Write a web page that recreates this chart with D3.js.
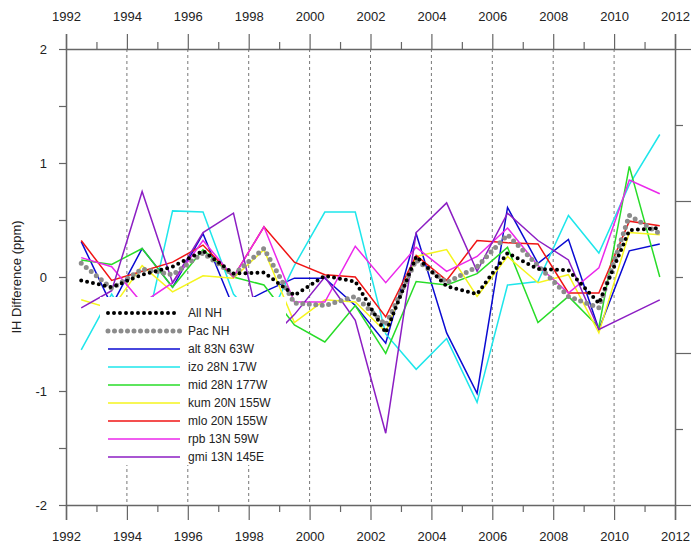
<!DOCTYPE html>
<html>
<head>
<meta charset="utf-8">
<script src="https://cdn.jsdelivr.net/npm/d3@7"></script>
<style>
  body { margin: 0; background: #fff; }
  svg { display: block; font-family: "Liberation Sans", Arial, sans-serif; }
</style>
</head>
<body>
<svg id="chart" width="696" height="554"></svg>
<script>
// mid-year points
const years = [1992.5, 1993.5, 1994.5, 1995.5, 1996.5, 1997.5, 1998.5, 1999.5, 2000.5, 2001.5,
               2002.5, 2003.5, 2004.5, 2005.5, 2006.5, 2007.5, 2008.5, 2009.5, 2010.5, 2011.5];

const allNH = [-0.03, -0.09, 0.02, 0.09, 0.23, 0.03, 0.04, -0.16, 0.01, -0.04,
               -0.49, 0.18, -0.08, -0.15, 0.21, 0.07, 0.06, -0.23, 0.41, 0.43];
const pacNH = [0.12, -0.10, 0.07, 0.02, 0.21, 0.02, 0.25, -0.23, -0.25, -0.17,
               -0.42, 0.15, -0.05, 0.09, 0.37, 0.10, -0.17, -0.27, 0.54, 0.38];
const alt = [0.31, -0.25, 0.25, -0.09, 0.38, -0.27, -0.13, -0.01, -0.01, -0.25,
             -0.58, 0.38, -0.49, -1.02, 0.61, 0.12, 0.33, -0.46, 0.23, 0.29];
const izo = [-0.64, -0.15, -0.60, 0.58, 0.57, -0.15, -0.45, 0.10, 0.57, 0.57,
             -0.50, -0.81, -0.54, -1.10, -0.07, -0.04, 0.54, 0.21, 0.81, 1.25];
const mid = [0.15, 0.11, 0.25, -0.09, 0.24, 0.00, -0.07, -0.42, -0.57, -0.25,
             -0.67, -0.04, -0.07, 0.03, 0.26, -0.40, -0.17, -0.44, 0.97, 0.00];
const kum = [-0.20, -0.28, 0.10, -0.13, 0.01, -0.01, 0.24, -0.40, -0.20, -0.22,
             -0.48, 0.18, 0.24, -0.17, 0.18, -0.05, 0.02, -0.49, 0.39, 0.37];
const mlo = [0.32, -0.03, 0.05, 0.13, 0.28, 0.00, 0.44, 0.13, 0.02, 0.00,
             -0.35, 0.19, -0.03, 0.32, 0.30, 0.29, -0.14, -0.14, 0.49, 0.45];
const rpb = [0.17, 0.09, -0.23, -0.05, 0.32, 0.00, 0.44, -0.22, -0.22, 0.27,
             -0.05, 0.26, 0.05, 0.18, 0.43, 0.10, -0.14, 0.08, 0.85, 0.73];
const gmi = [-0.27, -0.12, 0.75, -0.05, 0.39, 0.56, -0.60, -0.33, 0.00, -0.38,
             -1.37, 0.39, 0.65, 0.05, 0.56, 0.32, 0.15, -0.46, -0.33, -0.20];

const stations = [
    { name: "alt 83N 63W", values: alt, color: "#0a0ad2" },
    { name: "izo 28N 17W", values: izo, color: "#1ee6eb" },
    { name: "mid 28N 177W", values: mid, color: "#28dc28" },
    { name: "kum 20N 155W", values: kum, color: "#f5f51e" },
    { name: "mlo 20N 155W", values: mlo, color: "#f01414" },
    { name: "rpb 13N 59W", values: rpb, color: "#eb28eb" },
    { name: "gmi 13N 145E", values: gmi, color: "#8c1ec3" },
];
const means = [
    { name: "All NH", values: allNH, color: "#000", width: 4, dash: "0,6" },
    { name: "Pac NH", values: pacNH, color: "#8c8c8c", width: 5, dash: "0,6.5" },
];

const xTicks = [1992, 1994, 1996, 1998, 2000, 2002, 2004, 2006, 2008, 2010, 2012];
const yTicks = [-2, -1, 0, 1, 2];

const svg = d3.select("#chart");

const x = d3.scaleLinear().domain([1992, 2012]).range([66, 675]);
const y = d3.scaleLinear().domain([-2, 2]).range([505, 49]);
const yRight = d3.scaleLinear().domain([-3, 3]).range([505, 49]);

const axisColor = "#666";

// dashed grid at even years
svg.append("g")
    .selectAll("line")
    .data(xTicks.slice(1, -1))
    .join("line")
    .attr("x1", d => x(d)).attr("x2", d => x(d))
    .attr("y1", y(2)).attr("y2", y(-2))
    .attr("stroke", "#777")
    .attr("stroke-width", 1)
    .attr("stroke-dasharray", "3,3");

const line = d3.line()
    .x((d, i) => x(years[i]))
    .y(d => y(d));

svg.append("g")
    .selectAll("path")
    .data(stations)
    .join("path")
    .attr("d", d => line(d.values))
    .attr("fill", "none")
    .attr("stroke", d => d.color)
    .attr("stroke-width", 1.5);

svg.append("g")
    .selectAll("path")
    .data(means.slice().reverse())
    .join("path")
    .attr("d", d => line(d.values))
    .attr("fill", "none")
    .attr("stroke", d => d.color)
    .attr("stroke-width", d => d.width)
    .attr("stroke-linecap", "round")
    .attr("stroke-dasharray", d => d.dash);

// axes
function styleAxis(g) {
    g.select(".domain").attr("stroke", axisColor).attr("stroke-width", 1.5);
    g.selectAll(".tick line").attr("stroke", axisColor).attr("stroke-width", 1.2);
    g.selectAll(".tick text").attr("fill", "#222").style("font-size", "13px")
        .style("font-family", "Liberation Sans, Arial, sans-serif");
}

const allYears = d3.range(1992, 2013);

function yearAxis(axisFn, yPos, pad) {
    const g = svg.append("g").attr("transform", `translate(0,${yPos})`)
        .call(axisFn(x).tickValues(allYears).tickSizeOuter(0)
            .tickSize(15).tickPadding(pad)
            .tickFormat(d => d % 2 === 0 ? d : ""));
    g.selectAll(".tick line").filter(d => d % 2 !== 0)
        .attr(axisFn === d3.axisTop ? "y2" : "y2", axisFn === d3.axisTop ? -7 : 7);
    styleAxis(g);
}
yearAxis(d3.axisTop, y(2), 13);
yearAxis(d3.axisBottom, y(-2), 12);

const gl = svg.append("g").attr("transform", `translate(${x(1992)},0)`)
    .call(d3.axisLeft(y).tickValues(d3.range(-2, 2.01, 0.5)).tickSize(7).tickSizeOuter(0)
        .tickPadding(12).tickFormat(d => Number.isInteger(d) ? d : ""));
styleAxis(gl);
gl.selectAll(".tick text").text(d => Number.isInteger(d) ? String(d).replace("\u2212", "-") : "");

const gr = svg.append("g").attr("transform", `translate(${x(2012)},0)`)
    .call(d3.axisRight(yRight).tickValues(d3.range(-3, 3.01, 1)).tickSize(16).tickSizeOuter(0)
        .tickFormat(""));
styleAxis(gr);
gr.selectAll(".tick line").filter(d => Math.abs(d) % 2 === 0).attr("x2", 8);

svg.append("text")
    .attr("transform", `translate(21,${y(0)}) rotate(-90)`)
    .attr("text-anchor", "middle")
    .attr("fill", "#222")
    .style("font-size", "13px")
    .text("IH Difference (ppm)");

// legend with white background
const legend = svg.append("g");
legend.append("rect")
    .attr("x", 100).attr("y", 297)
    .attr("width", 186).attr("height", 168)
    .attr("fill", "#fff");

const legendItems = means.concat(stations);
const li = legend.selectAll("g.item")
    .data(legendItems)
    .join("g")
    .attr("class", "item")
    .attr("transform", (d, i) => `translate(0,${313 + i * 18})`);

li.append("line")
    .attr("x1", 108).attr("x2", 180)
    .attr("stroke", d => d.color)
    .attr("stroke-width", d => d.width || 1.5)
    .attr("stroke-linecap", d => d.dash ? "round" : "butt")
    .attr("stroke-dasharray", d => d.dash || null);

li.append("text")
    .attr("x", 188).attr("dy", "0.35em")
    .attr("fill", "#222")
    .style("font-size", "12px")
    .text(d => d.name);
</script>
</body>
</html>
